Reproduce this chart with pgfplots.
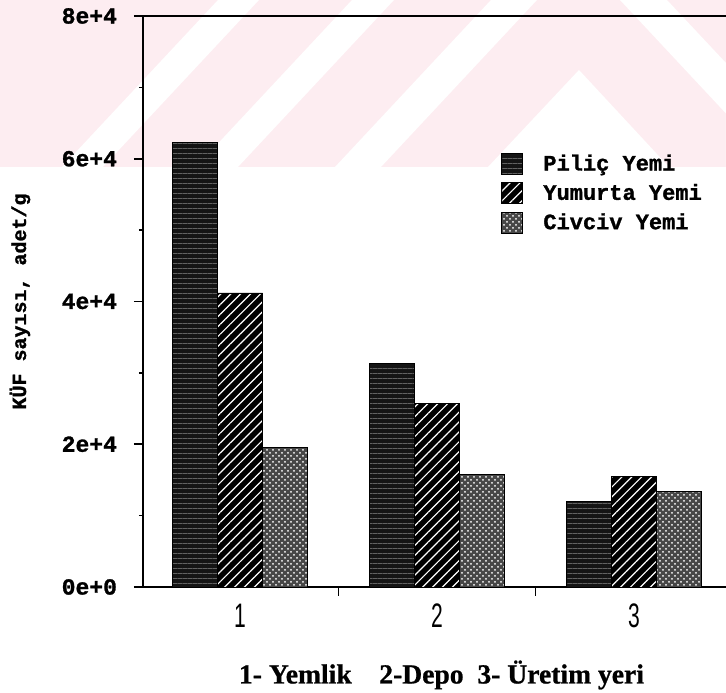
\documentclass[border=0pt]{standalone}
\usepackage{fontspec}
\usepackage{pgfplots}
\usepackage{pgfplotstable}
\pgfplotsset{compat=1.18}
\usetikzlibrary{patterns,patterns.meta}
\setmainfont{Liberation Serif}
\newfontfamily\monob[FakeBold=1.2]{Liberation Mono Bold}
\newfontfamily\serifb[FakeBold=0.8]{Liberation Serif Bold}
\newfontfamily\tickfont[FakeStretch=0.62]{Liberation Sans}
\definecolor{wm}{RGB}{253,237,241}
\pgfdeclarelayer{bg}
\pgfsetlayers{bg,main}

\pgfplotstableread{
x pil yum civ
1 62300 41200 19600
2 31300 25700 15800
3 12000 15500 13400
}\data

\begin{document}
\begin{tikzpicture}
\begin{axis}[
  name=ax, scale only axis, width=291.5pt, height=285.5pt,
  xmin=0.507, xmax=3.467, ymin=0, ymax=80000, clip=false,
  axis x line*=bottom, axis y line*=left,
  axis line style={line width=1pt},
  ybar=0pt, bar width=22.5pt,
  tick align=outside, major tick length=4.5pt, minor tick length=2pt,
  tick style={black, line width=0.8pt},
  xtick={1.5,2.5}, xticklabels={},
  extra x ticks={1,2,3}, extra x tick labels={1,2,3},
  extra x tick style={major tick length=0pt,
    tick label style={font=\tickfont\fontsize{17}{17}\selectfont, yshift=-5pt}},
  ytick={0,20000,40000,60000,80000},
  yticklabels={0e+0,2e+4,4e+4,6e+4,8e+4},
  minor y tick num=1, scaled y ticks=false,
  yticklabel style={font=\monob\fontsize{11.5}{11.5}\selectfont, xshift=-5pt},
  ylabel={KÜF sayısı, adet/g},
  ylabel style={at={(axis description cs:-0.211,0.5)}, anchor=center,
    font=\monob\fontsize{10}{10}\selectfont},
  xlabel={1- Yemlik\quad 2-Depo\ \ 3- Üretim yeri},
  xlabel style={at={(axis description cs:0.512,0)}, anchor=center, yshift=-44pt,
    font=\serifb\fontsize{13.8}{13.8}\selectfont},
  legend style={draw=none, fill=none, at={(rel axis cs:0.614,0.765)},
    anchor=north west, font=\monob\fontsize{11}{11}\selectfont,
    row sep=1.2pt, column sep=8pt, inner sep=0pt},
  legend cell align=left,
  legend image code/.code={\draw[#1,line width=0.5pt] (0pt,-5.25pt) rectangle (10.5pt,5.25pt);},
]
\addplot[draw=black, fill=black!92,
  postaction={pattern={Lines[angle=0,distance=2.5pt,line width=0.35pt]}, pattern color=black!62}]
  table[x=x,y=pil]{\data};
\addplot[draw=black, fill=black,
  postaction={pattern={Lines[angle=45,distance=3.5pt,line width=0.6pt]}, pattern color=white}]
  table[x=x,y=yum]{\data};
\addplot[draw=black, fill=black!72,
  postaction={pattern=crosshatch dots, pattern color=white}]
  table[x=x,y=civ]{\data};
\legend{Piliç Yemi, Yumurta Yemi, Civciv Yemi}
\draw[line width=1pt] (rel axis cs:0,1) -- (rel axis cs:1,1);
\end{axis}
\begin{pgfonlayer}{bg}
\begin{scope}[shift={(ax.south west)}, x=0.5pt, y=-0.5pt, shift={(-143,-587)}]
\fill[wm] (0,0) rectangle (726,167);
\fill[white] (218,0) -- (259,0) -- (103,167) -- (62,167) -- cycle;
\fill[white] (352,0) -- (394,0) -- (238,167) -- (196,167) -- cycle;
\fill[white] (491,0) -- (537,0) -- (381,167) -- (335,167) -- cycle;
\fill[white] (579,70) -- (669,167) -- (488,167) -- cycle;
\fill[white] (620,0) -- (667,0) -- (726,63) -- (726,167) -- (776,167) -- cycle;
\end{scope}
\end{pgfonlayer}
\pgfresetboundingbox
\path ([xshift=-71.5pt,yshift=-53pt]ax.south west) rectangle ([yshift=8pt]ax.north east);
\end{tikzpicture}
\end{document}
